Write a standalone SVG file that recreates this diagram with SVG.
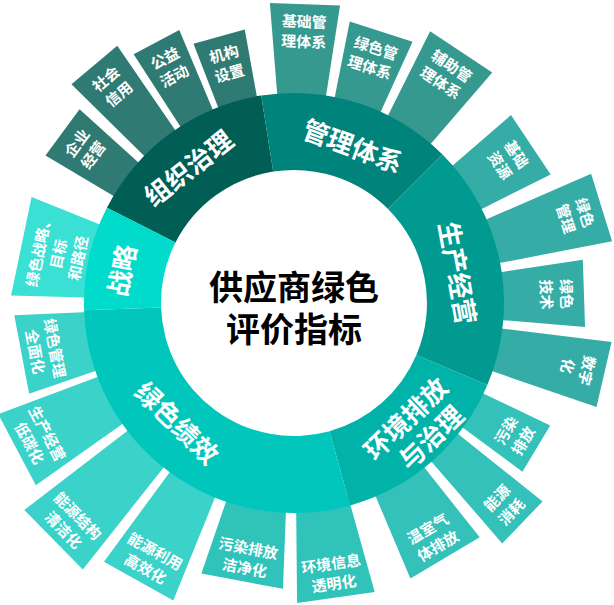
<svg xmlns="http://www.w3.org/2000/svg" width="614" height="605" viewBox="0 0 614 605">
<style>
text{font-family:"Noto Sans CJK SC","Noto Sans",sans-serif;font-weight:700;text-anchor:middle;dominant-baseline:central}
.bl{fill:#fff;font-size:15px}
.ml{fill:#fff;font-size:26px}
.ct{fill:#000;font-size:34px}
.bzz{fill:#2F7B73}.bgl{fill:#35998F}.bsc{fill:#35ADA6}.bhj{fill:#33C1B9}.bjx{fill:#3AD2C9}.bjx2{fill:#30C3BA}.bzl{fill:#3BE0D4}
.szz{fill:#005E55}.sgl{fill:#00837A}.ssc{fill:#009A91}.shj{fill:#00B2A8}.sjx{fill:#00C6BB}.szl{fill:#00DBCC}
</style>
<rect width="614" height="605" fill="#fff"/>
<g id="outer-boxes">
<g id="n-qiyejingying" transform="translate(294 303) rotate(306.4)"><polygon class="bzz" points="-19.9,-199 19.9,-199 28.7,-287.6 -28.7,-287.6"/><text class="bl" transform="translate(0 -261)"><tspan x="0" y="-10">企业</tspan><tspan x="0" y="10">经营</tspan></text></g>
<g id="n-shehuixinyong" transform="translate(294 303) rotate(320)"><polygon class="bzz" points="-19.2,-199 19.2,-199 29.9,-310.6 -29.9,-310.6"/><text class="bl" transform="translate(0 -284)"><tspan x="0" y="-10">社会</tspan><tspan x="0" y="10">信用</tspan></text></g>
<g id="n-gongyihuodong" transform="translate(294 303) rotate(332.2)"><polygon class="bzz" points="-17.4,-199 17.4,-199 25.8,-294.9 -25.8,-294.9"/><text class="bl" transform="translate(0 -268)"><tspan x="0" y="-10">公益</tspan><tspan x="0" y="10">活动</tspan></text></g>
<g id="n-jigoushezhi" transform="translate(294 303) rotate(344.3)"><polygon class="bzz" points="-19.2,-199 19.2,-199 26.6,-276.7 -26.6,-276.7"/><text class="bl" transform="translate(0 -250)"><tspan x="0" y="-10">机构</tspan><tspan x="0" y="10">设置</tspan></text></g>
<g id="n-jichuguanli" transform="translate(294 303) rotate(2.1)"><polygon class="bgl" points="-23.3,-198.6 23.3,-198.6 35.1,-298.9 -35.1,-298.9"/><text class="bl" transform="translate(0 -273)"><tspan x="0" y="-10">基础管</tspan><tspan x="0" y="10">理体系</tspan></text></g>
<g id="n-lvseguanlitixi" transform="translate(294 303) rotate(17.8)"><polygon class="bgl" points="-23,-198.7 23,-198.7 33,-285.1 -33,-285.1"/><text class="bl" transform="translate(0 -259)"><tspan x="0" y="-10">绿色管</tspan><tspan x="0" y="10">理体系</tspan></text></g>
<g id="n-fuzhuguanli" transform="translate(294 303) rotate(33.65)"><polygon class="bgl" points="-24.5,-198.5 24.5,-198.5 37.3,-301.7 -37.3,-301.7"/><text class="bl" transform="translate(0 -276)"><tspan x="0" y="-10">辅助管</tspan><tspan x="0" y="10">理体系</tspan></text></g>
<g id="n-jichuziyuan" transform="translate(294 303) rotate(56.25)"><polygon class="bsc" points="-24.9,-198.4 24.9,-198.4 35.7,-284.8 -35.7,-284.8"/><text class="bl" transform="translate(0 -259)"><tspan x="0" y="-10">基础</tspan><tspan x="0" y="10">资源</tspan></text></g>
<g id="n-lvseguanli" transform="translate(294 303) rotate(72.75)"><polygon class="bsc" points="-21.8,-198.8 21.8,-198.8 35.3,-322.1 -35.3,-322.1"/><text class="bl" transform="translate(0 -296)"><tspan x="0" y="-10">绿色</tspan><tspan x="0" y="10">管理</tspan></text></g>
<g id="n-lvsejishu" transform="translate(294 303) rotate(88.1)"><polygon class="bsc" points="-23,-198.7 23,-198.7 33.6,-290.1 -33.6,-290.1"/><text class="bl" transform="translate(0 -264)"><tspan x="0" y="-10">绿色</tspan><tspan x="0" y="10">技术</tspan></text></g>
<g id="n-shuzihua" transform="translate(294 303) rotate(103)"><polygon class="bsc" points="-20.9,-198.9 20.9,-198.9 33.4,-318.2 -33.4,-318.2"/><text class="bl" transform="translate(0 -292)"><tspan x="0" y="-10">数字</tspan><tspan x="0" y="10">化</tspan></text></g>
<g id="n-wuranpaifang" transform="translate(294 303) rotate(121)"><polygon class="bhj" points="-19,-199.1 19,-199.1 27,-282.7 -27,-282.7"/><text class="bl" transform="translate(0 -256) rotate(180)"><tspan x="0" y="-10">污染</tspan><tspan x="0" y="10">排放</tspan></text></g>
<g id="n-nengyuanxiaohao" transform="translate(294 303) rotate(133.85)"><polygon class="bhj" points="-18.3,-199.2 18.3,-199.2 29.1,-316.7 -29.1,-316.7"/><text class="bl" transform="translate(0 -290) rotate(180)"><tspan x="0" y="-10">能源</tspan><tspan x="0" y="10">消耗</tspan></text></g>
<g id="n-wenshiqiti" transform="translate(294 303) rotate(149.35)"><polygon class="bhj" points="-27,-198.2 27,-198.2 40.3,-296.3 -40.3,-296.3"/><text class="bl" transform="translate(0 -271) rotate(180)"><tspan x="0" y="-10">温室气</tspan><tspan x="0" y="10">体排放</tspan></text></g>
<g id="n-huanjingxinxi" transform="translate(294 303) rotate(171.9)"><polygon class="bjx2" points="-26.1,-198.3 26.1,-198.3 39.2,-297.4 -39.2,-297.4"/><text class="bl" transform="translate(0 -272) rotate(180)"><tspan x="0" y="-10">环境信息</tspan><tspan x="0" y="10">透明化</tspan></text></g>
<g id="n-wuranjiejing" transform="translate(294 303) rotate(190.55)"><polygon class="bjx2" points="-29,-197.9 29,-197.9 41.5,-283 -41.5,-283"/><text class="bl" transform="translate(0 -258) rotate(180)"><tspan x="0" y="-10">污染排放</tspan><tspan x="0" y="10">洁净化</tspan></text></g>
<g id="n-nengyuanliyong" transform="translate(294 303) rotate(209.2)"><polygon class="bjx" points="-24.7,-198.5 24.7,-198.5 39.7,-318.5 -39.7,-318.5"/><text class="bl" transform="translate(0 -293) rotate(180)"><tspan x="0" y="-10">能源利用</tspan><tspan x="0" y="10">高效化</tspan></text></g>
<g id="n-nengyuanjiegou" transform="translate(294 303) rotate(225.45)"><polygon class="bjx" points="-24.5,-198.5 24.5,-198.5 41.7,-337.4 -41.7,-337.4"/><text class="bl" transform="translate(0 -312) rotate(180)"><tspan x="0" y="-10">能源结构</tspan><tspan x="0" y="10">清洁化</tspan></text></g>
<g id="n-shengchandithan" transform="translate(294 303) rotate(242.1)"><polygon class="bjx" points="-25.4,-198.4 25.4,-198.4 40.2,-313.4 -40.2,-313.4"/><text class="bl" transform="translate(0 -288) rotate(180)"><tspan x="0" y="-10">生产经营</tspan><tspan x="0" y="10">低碳化</tspan></text></g>
<g id="n-lvseguanliquanmian" transform="translate(294 303) rotate(259.3)"><polygon class="bjx" points="-28.5,-198 28.5,-198 39.9,-277.1 -39.9,-277.1"/><text class="bl" transform="translate(0 -252) rotate(180)"><tspan x="0" y="-10">绿色管理</tspan><tspan x="0" y="10">全面化</tspan></text></g>
<g id="n-lvsezhanlue" transform="translate(294 303) rotate(281.75)"><polygon class="bzl" points="-35.6,-196.8 35.6,-196.8 50.3,-278.5 -50.3,-278.5"/><text class="bl" transform="translate(0 -242)"><tspan x="0" y="-20">绿色战略、</tspan><tspan x="0" y="0">目标</tspan><tspan x="0" y="20">和路径</tspan></text></g>
</g>
<g id="ring">
<g id="s-zuzhizhili"><path class="szz" d="M106.9,207.7 A210,210 0 0 1 261.2,95.6 L273.2,171.6 A133,133 0 0 0 175.5,242.6 Z"/><text class="ml" transform="translate(187.5 166.7) rotate(-38)">组织治理</text></g>
<g id="s-guanlitixi"><path class="sgl" d="M261.2,95.6 A210,210 0 0 1 442.5,154.5 L388,209 A133,133 0 0 0 273.2,171.6 Z"/><text class="ml" transform="translate(353.2 144.7) rotate(20.5)">管理体系</text></g>
<g id="s-shengchanjingying"><path class="ssc" d="M442.5,154.5 A210,210 0 0 1 487.3,385 L416.4,355 A133,133 0 0 0 388,209 Z"/><text class="ml" transform="translate(459.2 272.7) rotate(79.6)">生产经营</text></g>
<g id="s-huanjing"><path class="shj" d="M487.3,385 A210,210 0 0 1 350.1,505.4 L329.5,431.2 A133,133 0 0 0 416.4,355 Z"/><text class="ml" transform="translate(414.9 428.2) rotate(-44)"><tspan x="0" y="-15.5">环境排放</tspan><tspan x="5" y="15.5">与治理</tspan></text></g>
<g id="s-lvsejixiao"><path class="sjx" d="M350.1,505.4 A210,210 0 0 1 84.1,310.3 L161.1,307.6 A133,133 0 0 0 329.5,431.2 Z"/><text class="ml" transform="translate(178.1 421.8) rotate(44.3)">绿色绩效</text></g>
<g id="s-zhanlue"><path class="szl" d="M84.1,310.3 A210,210 0 0 1 106.9,207.7 L175.5,242.6 A133,133 0 0 0 161.1,307.6 Z"/><text class="ml" transform="translate(120.1 270.1) rotate(-79.3)">战略</text></g>
</g>
<g id="center">
<text class="ct" x="294"><tspan x="294" y="285">供应商绿色</tspan><tspan x="294" y="327">评价指标</tspan></text>
</g>
</svg>
